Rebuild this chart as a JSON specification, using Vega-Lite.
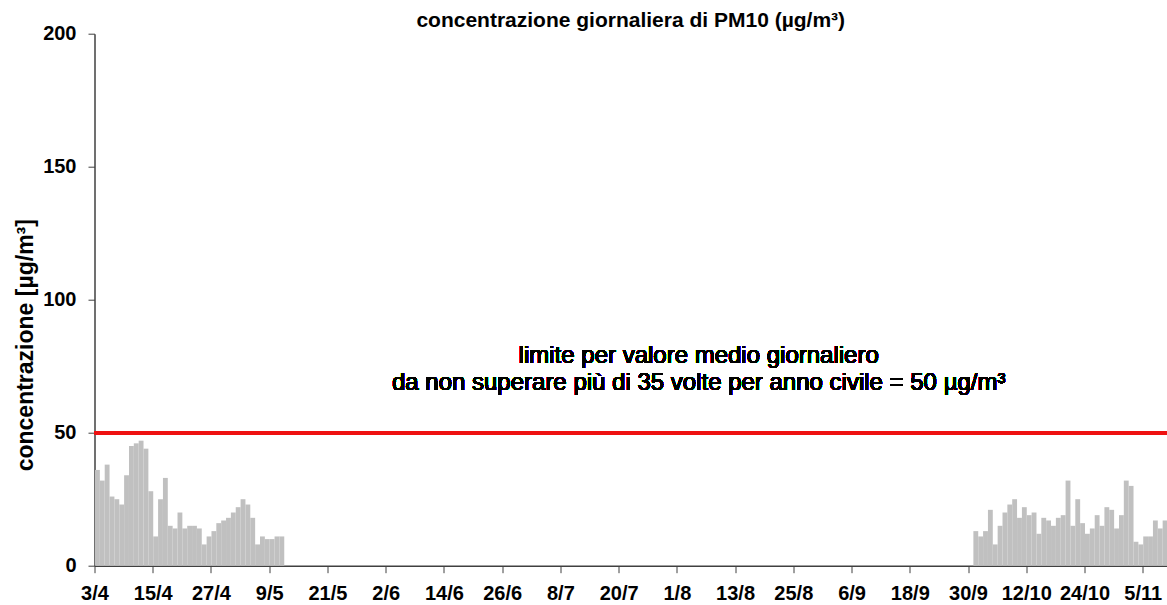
{
  "$schema": "https://vega.github.io/schema/vega-lite/v6.json",
  "width": 1072.5,
  "height": 532,
  "autosize": {"type": "none"},
  "padding": {"left": 94.5, "top": 33.7, "right": 0, "bottom": 39.3},
  "background": "white",
  "config": {
    "view": {"stroke": null},
    "font": "Liberation Sans"
  },
  "title": {
    "text": "concentrazione giornaliera di PM10 (µg/m³)",
    "anchor": "middle",
    "frame": "group",
    "fontSize": 21,
    "fontWeight": "bold",
    "color": "black",
    "font": "Liberation Sans",
    "baseline": "alphabetic",
    "offset": 5,
    "dy": 29
  },
  "data": {
    "values": [
      {"date": "2014/04/03", "pm10": 36},
      {"date": "2014/04/04", "pm10": 32},
      {"date": "2014/04/05", "pm10": 38},
      {"date": "2014/04/06", "pm10": 26},
      {"date": "2014/04/07", "pm10": 25},
      {"date": "2014/04/08", "pm10": 23},
      {"date": "2014/04/09", "pm10": 34},
      {"date": "2014/04/10", "pm10": 45},
      {"date": "2014/04/11", "pm10": 46},
      {"date": "2014/04/12", "pm10": 47},
      {"date": "2014/04/13", "pm10": 44},
      {"date": "2014/04/14", "pm10": 28},
      {"date": "2014/04/15", "pm10": 11},
      {"date": "2014/04/16", "pm10": 25},
      {"date": "2014/04/17", "pm10": 33},
      {"date": "2014/04/18", "pm10": 15},
      {"date": "2014/04/19", "pm10": 14},
      {"date": "2014/04/20", "pm10": 20},
      {"date": "2014/04/21", "pm10": 14},
      {"date": "2014/04/22", "pm10": 15},
      {"date": "2014/04/23", "pm10": 15},
      {"date": "2014/04/24", "pm10": 14},
      {"date": "2014/04/25", "pm10": 8},
      {"date": "2014/04/26", "pm10": 11},
      {"date": "2014/04/27", "pm10": 13},
      {"date": "2014/04/28", "pm10": 16},
      {"date": "2014/04/29", "pm10": 17},
      {"date": "2014/04/30", "pm10": 18},
      {"date": "2014/05/01", "pm10": 20},
      {"date": "2014/05/02", "pm10": 22},
      {"date": "2014/05/03", "pm10": 25},
      {"date": "2014/05/04", "pm10": 23},
      {"date": "2014/05/05", "pm10": 18},
      {"date": "2014/05/06", "pm10": 8},
      {"date": "2014/05/07", "pm10": 11},
      {"date": "2014/05/08", "pm10": 10},
      {"date": "2014/05/09", "pm10": 10},
      {"date": "2014/05/10", "pm10": 11},
      {"date": "2014/05/11", "pm10": 11},
      {"date": "2014/10/01", "pm10": 13},
      {"date": "2014/10/02", "pm10": 11},
      {"date": "2014/10/03", "pm10": 13},
      {"date": "2014/10/04", "pm10": 21},
      {"date": "2014/10/05", "pm10": 8},
      {"date": "2014/10/06", "pm10": 15},
      {"date": "2014/10/07", "pm10": 20},
      {"date": "2014/10/08", "pm10": 23},
      {"date": "2014/10/09", "pm10": 25},
      {"date": "2014/10/10", "pm10": 18},
      {"date": "2014/10/11", "pm10": 22},
      {"date": "2014/10/12", "pm10": 19},
      {"date": "2014/10/13", "pm10": 20},
      {"date": "2014/10/14", "pm10": 12},
      {"date": "2014/10/15", "pm10": 18},
      {"date": "2014/10/16", "pm10": 17},
      {"date": "2014/10/17", "pm10": 15},
      {"date": "2014/10/18", "pm10": 18},
      {"date": "2014/10/19", "pm10": 19},
      {"date": "2014/10/20", "pm10": 32},
      {"date": "2014/10/21", "pm10": 15},
      {"date": "2014/10/22", "pm10": 25},
      {"date": "2014/10/23", "pm10": 16},
      {"date": "2014/10/24", "pm10": 12},
      {"date": "2014/10/25", "pm10": 14},
      {"date": "2014/10/26", "pm10": 19},
      {"date": "2014/10/27", "pm10": 15},
      {"date": "2014/10/28", "pm10": 22},
      {"date": "2014/10/29", "pm10": 21},
      {"date": "2014/10/30", "pm10": 14},
      {"date": "2014/10/31", "pm10": 19},
      {"date": "2014/11/01", "pm10": 32},
      {"date": "2014/11/02", "pm10": 30},
      {"date": "2014/11/03", "pm10": 9},
      {"date": "2014/11/04", "pm10": 8},
      {"date": "2014/11/05", "pm10": 11},
      {"date": "2014/11/06", "pm10": 11},
      {"date": "2014/11/07", "pm10": 17},
      {"date": "2014/11/08", "pm10": 14},
      {"date": "2014/11/09", "pm10": 17}
    ]
  },
  "layer": [
    {
      "mark": {"type": "bar", "color": "#c0c0c0", "binSpacing": 0, "timeUnitBandSize": 1, "timeUnitBandPosition": 0},
      "encoding": {
        "x": {
          "field": "date",
          "timeUnit": "yearmonthdate",
          "type": "temporal",
          "scale": {
            "domain": [
              {"year": 2014, "month": 4, "date": 3},
              {"year": 2014, "month": 11, "date": 10}
            ],
            "nice": false
          },
          "axis": {
            "title": null,
            "format": "%-d/%-m",
            "values": [
              {"year": 2014, "month": 4, "date": 3},
              {"year": 2014, "month": 4, "date": 15},
              {"year": 2014, "month": 4, "date": 27},
              {"year": 2014, "month": 5, "date": 9},
              {"year": 2014, "month": 5, "date": 21},
              {"year": 2014, "month": 6, "date": 2},
              {"year": 2014, "month": 6, "date": 14},
              {"year": 2014, "month": 6, "date": 26},
              {"year": 2014, "month": 7, "date": 8},
              {"year": 2014, "month": 7, "date": 20},
              {"year": 2014, "month": 8, "date": 1},
              {"year": 2014, "month": 8, "date": 13},
              {"year": 2014, "month": 8, "date": 25},
              {"year": 2014, "month": 9, "date": 6},
              {"year": 2014, "month": 9, "date": 18},
              {"year": 2014, "month": 9, "date": 30},
              {"year": 2014, "month": 10, "date": 12},
              {"year": 2014, "month": 10, "date": 24},
              {"year": 2014, "month": 11, "date": 5}
            ],
            "grid": false,
            "labelFontSize": 20,
            "labelFontWeight": "bold",
            "labelColor": "black",
            "labelFont": "Liberation Sans",
            "labelPadding": 11,
            "labelOverlap": false,
            "labelFlush": false,
            "tickSize": 7,
            "tickColor": "#404040",
            "domainColor": "#404040",
            "domainWidth": 1.5
          }
        },
        "y": {
          "field": "pm10",
          "type": "quantitative",
          "scale": {"domain": [0, 200], "nice": false},
          "axis": {
            "title": "concentrazione [µg/m³]",
            "values": [0, 50, 100, 150, 200],
            "grid": false,
            "labelFontSize": 20,
            "labelFontWeight": "bold",
            "labelColor": "black",
            "labelFont": "Liberation Sans",
            "labelPadding": 12,
            "tickSize": 6.5,
            "tickColor": "#404040",
            "domainColor": "#404040",
            "domainWidth": 1.5,
            "titleFontSize": 23,
            "titleFontWeight": "bold",
            "titleColor": "black",
            "titleFont": "Liberation Sans",
            "titleAngle": 270,
            "titleAlign": "center",
            "titleBaseline": "alphabetic",
            "titleX": -62,
            "titleY": 311
          }
        }
      }
    },
    {
      "mark": {"type": "rule", "color": "#ee1111", "strokeWidth": 3},
      "encoding": {"y": {"datum": 50, "type": "quantitative"}}
    },
    {
      "mark": {"type": "text", "text": "limite per valore medio giornaliero", "fontSize": 24, "font": "Liberation Sans", "color": "black", "align": "center", "baseline": "middle"},
      "encoding": {
        "x": {"datum": {"year": 2014, "month": 8, "date": 5, "hours": 12}, "type": "temporal"},
        "y": {"datum": 79, "type": "quantitative"}
      }
    },
    {
      "mark": {"type": "text", "text": "da non superare più di 35 volte per anno civile = 50 µg/m³", "fontSize": 24, "font": "Liberation Sans", "color": "black", "align": "center", "baseline": "middle"},
      "encoding": {
        "x": {"datum": {"year": 2014, "month": 8, "date": 5, "hours": 12}, "type": "temporal"},
        "y": {"datum": 68.5, "type": "quantitative"}
      }
    }
  ]
}
